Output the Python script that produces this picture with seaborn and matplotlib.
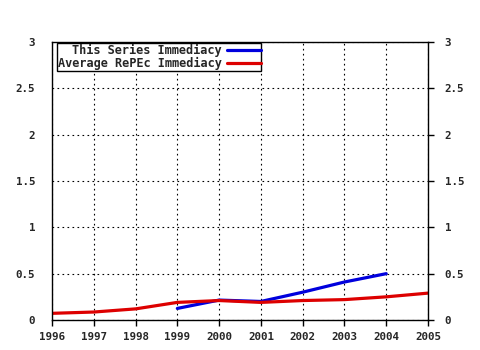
import pandas as pd
import matplotlib
matplotlib.use("Agg")
import matplotlib.pyplot as plt
import seaborn as sns

# values
series_years = [1999, 2000, 2001, 2002, 2003, 2004]
series_vals = [0.125, 0.215, 0.20, 0.30, 0.41, 0.50]
avg_years = [1996, 1997, 1998, 1999, 2000, 2001, 2002, 2003, 2004, 2005]
avg_vals = [0.072, 0.086, 0.12, 0.19, 0.21, 0.19, 0.21, 0.22, 0.25, 0.29]

series_name = "This Series Immediacy"
avg_name = "Average RePEc Immediacy"

df = pd.concat([
    pd.DataFrame({"year": series_years, "value": series_vals, "name": series_name}),
    pd.DataFrame({"year": avg_years, "value": avg_vals, "name": avg_name}),
])

sns.set_style("white")
plt.rcParams["font.family"] = ["DejaVu Sans Mono"]
plt.rcParams["font.weight"] = "bold"

fig, ax = plt.subplots(figsize=(4.8, 3.5), dpi=100)
fig.subplots_adjust(left=52 / 480, right=428 / 480, bottom=1 - 320 / 350, top=1 - 42 / 350)

sns.lineplot(data=df, x="year", y="value", hue="name",
             palette={series_name: "#0000dd", avg_name: "#dd0000"},
             linewidth=2.3, ax=ax, legend=False)

ax.set_xlim(1996, 2005)
ax.set_ylim(0, 3)
ax.set_xticks(range(1996, 2006))
ax.set_yticks([0, 0.5, 1, 1.5, 2, 2.5, 3])
ax.set_yticklabels(["0", "0.5", "1", "1.5", "2", "2.5", "3"])
ax.set_xlabel("")
ax.set_ylabel("")
ax.grid(True, color="black", linestyle=(0, (1.5, 3)), linewidth=0.8)

for sp in ax.spines.values():
    sp.set_color("black")
    sp.set_linewidth(1)

ax.tick_params(axis="both", direction="out", length=4, width=1, color="black",
               labelsize=7.8, pad=4)
ax.tick_params(axis="y", right=True, labelright=True, pad=8)
ax.tick_params(axis="x", bottom=True, pad=5)
for lbl in ax.get_xticklabels() + ax.get_yticklabels():
    lbl.set_fontweight("bold")

handles = [plt.Line2D([], [], color="#0000dd", linewidth=2.3),
           plt.Line2D([], [], color="#dd0000", linewidth=2.3)]
leg = ax.legend(handles, [series_name, avg_name], loc="upper left",
                bbox_to_anchor=(5 / 376, 0.995), borderaxespad=0,
                markerfirst=False, fancybox=False, framealpha=1,
                edgecolor="black", handlelength=2.8,
                handletextpad=0.5, borderpad=0.05, labelspacing=0.02,
                prop={"weight": "bold", "size": 8.6, "family": "DejaVu Sans Mono"})
leg.get_frame().set_linewidth(1)

fig.savefig("out.png", dpi=100)
